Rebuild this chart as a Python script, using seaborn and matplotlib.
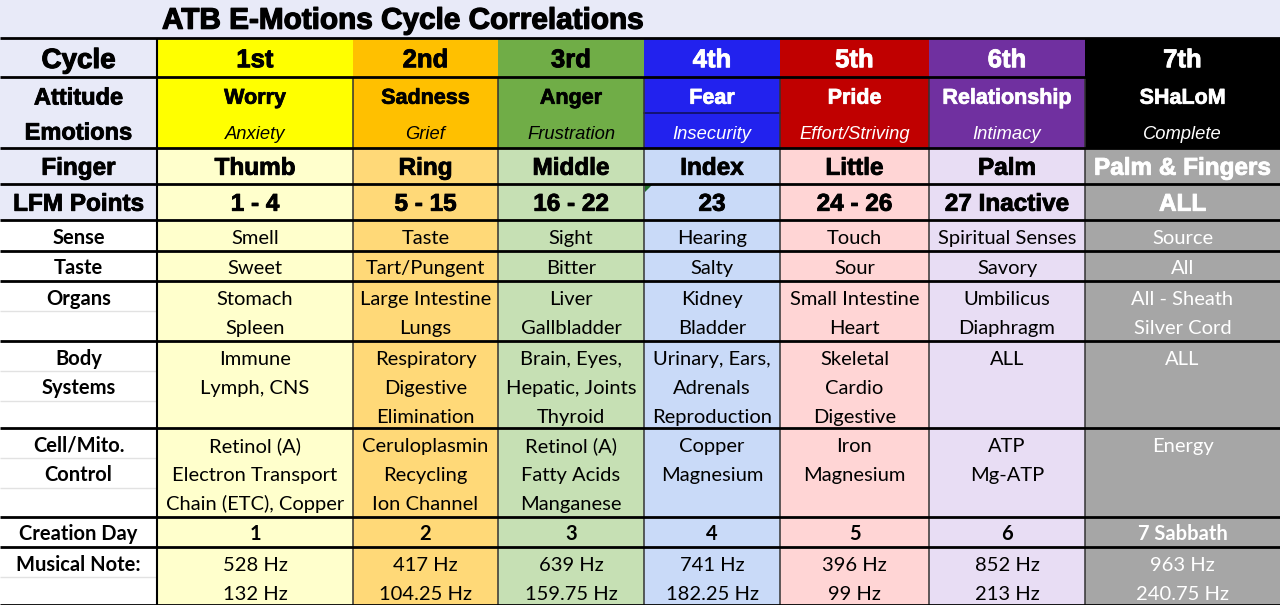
import matplotlib
matplotlib.use("Agg")
import matplotlib.pyplot as plt
import matplotlib.patheffects as pe
import seaborn as sns
from matplotlib.patches import Polygon

sns.set_theme(style="white")
plt.rcParams['font.family'] = ['Liberation Sans', 'DejaVu Sans']
plt.rcParams['text.color'] = 'black'

# ---------------- data ----------------
title = "ATB E-Motions Cycle Correlations"
row_labels = ["Cycle", ["Attitude", "Emotions"], "Finger", "LFM Points", "Sense", "Taste",
              ["Organs"], ["Body", "Systems"], ["Cell/Mito.", "Control"], "Creation Day", ["Musical Note:"]]
cycles = ["1st", "2nd", "3rd", "4th", "5th", "6th", "7th"]
attitudes = ["Worry", "Sadness", "Anger", "Fear", "Pride", "Relationship", "SHaLoM"]
emotions = ["Anxiety", "Grief", "Frustration", "Insecurity", "Effort/Striving", "Intimacy", "Complete"]
fingers = ["Thumb", "Ring", "Middle", "Index", "Little", "Palm", "Palm & Fingers"]
lfm_points = ["1 - 4", "5 - 15", "16 - 22", "23", "24 - 26", "27 Inactive", "ALL"]
senses = ["Smell", "Taste", "Sight", "Hearing", "Touch", "Spiritual Senses", "Source"]
tastes = ["Sweet", "Tart/Pungent", "Bitter", "Salty", "Sour", "Savory", "All"]
organs = [["Stomach", "Spleen"], ["Large Intestine", "Lungs"], ["Liver", "Gallbladder"],
          ["Kidney", "Bladder"], ["Small Intestine", "Heart"], ["Umbilicus", "Diaphragm"],
          ["All - Sheath", "Silver Cord"]]
body_systems = [["Immune", "Lymph, CNS"], ["Respiratory", "Digestive", "Elimination"],
                ["Brain, Eyes,", "Hepatic, Joints", "Thyroid"],
                ["Urinary, Ears,", "Adrenals", "Reproduction"], ["Skeletal", "Cardio", "Digestive"],
                ["ALL"], ["ALL"]]
cell_control = [["Retinol (A)", "Electron Transport", "Chain (ETC), Copper"],
                ["Ceruloplasmin", "Recycling", "Ion Channel"],
                ["Retinol (A)", "Fatty Acids", "Manganese"],
                ["Copper", "Magnesium"], ["Iron", "Magnesium"], ["ATP", "Mg-ATP"], ["Energy"]]
creation_days = ["1", "2", "3", "4", "5", "6", "7 Sabbath"]
notes_high = ["528 Hz", "417 Hz", "639 Hz", "741 Hz", "396 Hz", "852 Hz", "963 Hz"]
notes_low = ["132 Hz", "104.25 Hz", "159.75 Hz", "182.25 Hz", "99 Hz", "213 Hz", "240.75 Hz"]

header_colors = ["#FFFF00", "#FFC000", "#70AD47", "#2222EE", "#C00000", "#7030A0", "#000000"]
body_colors = ["#FFFFCC", "#FFD978", "#C6E0B4", "#C9DAF8", "#FFD5D5", "#E8DDF4", "#A6A6A6"]
header_text = ["black", "black", "black", "white", "white", "white", "white"]
body_text = ["black"] * 6 + ["white"]

# layout (pixel grid)
col_edges = [0, 157, 353, 498, 644, 780, 929, 1085, 1280]
row_edges = [38, 77, 148, 184, 220, 251, 281, 341, 428, 517, 547, 605]
lavender = "#E8EAF8"

fig = plt.figure(figsize=(12.8, 6.05), dpi=100)
ax = fig.add_axes([0, 0, 1, 1])
ax.set_xlim(0, 1280)
ax.set_ylim(605, 0)
ax.axis("off")
fig.patch.set_facecolor("white")

BODY = ['Lato', 'DejaVu Sans']
HEAD = ['Liberation Sans', 'DejaVu Sans']


def put(x, yc, s, size, family, color="black", weight="normal", style="normal",
        ha="center", stroke=0.0):
    # place text so its cap height is centred on yc
    t = ax.text(x, yc + 0.5 * size, s, fontsize=size, family=family, color=color,
                fontweight=weight, style=style, ha=ha, va="baseline")
    if stroke > 0:
        t.set_path_effects([pe.withStroke(linewidth=stroke, foreground=color)])
    return t


# title band
ax.bar(0, 38, width=1280, bottom=0, align="edge", color=lavender, linewidth=0)
put(162, 18, title, 21.4, HEAD, weight="bold", ha="left", stroke=0.9)

# label column backgrounds
for r in range(len(row_edges) - 1):
    top, bot = row_edges[r], row_edges[r + 1]
    ax.bar(0, bot - top, width=col_edges[1], bottom=top, align="edge",
           color=lavender if r < 4 else "white", linewidth=0)

# data cell backgrounds
for c in range(7):
    x0, w = col_edges[c + 1], col_edges[c + 2] - col_edges[c + 1]
    ax.bar(x0, row_edges[2] - row_edges[0], width=w, bottom=row_edges[0], align="edge",
           color=header_colors[c], linewidth=0)
    ax.bar(x0, row_edges[-1] - row_edges[2], width=w, bottom=row_edges[2], align="edge",
           color=body_colors[c], linewidth=0)

# faint sub-lines in label column
for r, n in [(6, 2), (7, 3), (8, 3), (10, 2)]:
    top = row_edges[r]
    for i in range(1, n):
        y = top + 30 * i
        ax.plot([0, col_edges[1] - 1], [y, y], color="#E2E2E2", lw=1, solid_capstyle="butt")

# Fear / Insecurity split line
ax.plot([col_edges[4], col_edges[5]], [113, 113], color="#101060", lw=1.2)

# vertical lines
for x in col_edges[2:-1]:
    ax.plot([x, x], [row_edges[1], row_edges[-1]], color="#333333", lw=1.1, solid_capstyle="butt")
ax.plot([col_edges[1], col_edges[1]], [row_edges[0], row_edges[-1]], color="black", lw=1.5,
        solid_capstyle="butt")

# horizontal thick lines
for y in row_edges:
    ax.plot([0, 1280], [y, y], color="black", lw=2.0, solid_capstyle="butt")

# comment marker triangle
cx, cy = col_edges[4] + 1, row_edges[3] + 1
ax.add_patch(Polygon([[cx, cy], [cx + 7, cy], [cx, cy + 7]], closed=True, color="#1F6E2A", lw=0))

# ---------------- text ----------------
def centers(c):
    return (col_edges[c] + col_edges[c + 1]) / 2


def line_y(r, i):
    return row_edges[r] + 16.5 + 29 * i


lx = centers(0)
# label column
put(lx, 58, "Cycle", 20, HEAD, weight="bold", stroke=0.8)
put(lx, 96, row_labels[1][0], 17, HEAD, weight="bold", stroke=0.6)
put(lx, 131, row_labels[1][1], 17, HEAD, weight="bold", stroke=0.6)
put(lx, 166, "Finger", 17.5, HEAD, weight="bold", stroke=0.6)
put(lx, 202, "LFM Points", 17.5, HEAD, weight="bold", stroke=0.6)
put(lx, 237, "Sense", 14.5, BODY, weight="bold")
put(lx, 267, "Taste", 14.5, BODY, weight="bold")
for r in [6, 7, 8, 10]:
    for i, s in enumerate(row_labels[r]):
        put(lx, line_y(r, i), s, 14.5, BODY, weight="bold")
put(lx, 533, "Creation Day", 14.5, BODY, weight="bold")

BS = 14.5
for c in range(7):
    x = centers(c + 1)
    ht, bt = header_text[c], body_text[c]
    put(x, 58, cycles[c], 18.5, HEAD, color=ht, weight="bold", stroke=0.6)
    put(x, 96, attitudes[c], 15.5, HEAD, color=ht, weight="bold", stroke=0.5)
    put(x, 132, emotions[c], 13.2, HEAD, color=ht, style="italic")
    put(x, 166, fingers[c], 17.5, HEAD, color=bt, weight="bold", stroke=0.6)
    put(x, 202, lfm_points[c], 17.5, HEAD, color=bt, weight="bold", stroke=0.6)
    put(x, 237, senses[c], BS, BODY, color=bt)
    put(x, 267, tastes[c], BS, BODY, color=bt)
    for r, block in [(6, organs), (7, body_systems), (8, cell_control)]:
        for i, s in enumerate(block[c]):
            put(x, line_y(r, i), s, BS, BODY, color=bt)
    put(x, 533, creation_days[c], BS, BODY, color=bt, weight="bold")
    put(x, line_y(10, 0), notes_high[c], BS, BODY, color=bt)
    put(x, line_y(10, 1), notes_low[c], BS, BODY, color=bt)

fig.savefig("out.png", dpi=100, facecolor="white")
